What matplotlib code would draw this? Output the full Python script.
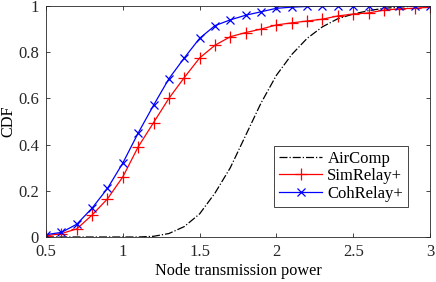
import numpy as np
from matplotlib import pyplot as plt

plt.rcParams['font.family'] = ['Liberation Serif', 'DejaVu Serif']

power = np.round(np.arange(0.5, 3.01, 0.1), 1)

aircomp = [0, 0, 0, 0, 0, 0, 0, 0.003, 0.015, 0.045, 0.1, 0.19, 0.3, 0.44,
           0.58, 0.7, 0.79, 0.86, 0.91, 0.945, 0.965, 0.98, 0.99, 0.995, 1.0, 1.0]
simrelay = [0.005, 0.015, 0.035, 0.095, 0.165, 0.26, 0.39, 0.495, 0.6, 0.69,
            0.775, 0.83, 0.867, 0.885, 0.9, 0.918, 0.927, 0.935, 0.943, 0.957,
            0.965, 0.97, 0.982, 0.988, 0.99, 0.995]
cohrelay = [0.01, 0.02, 0.055, 0.125, 0.21, 0.32, 0.45, 0.57, 0.685, 0.775,
            0.86, 0.915, 0.94, 0.96, 0.975, 0.99, 0.995, 0.998, 1.0, 1.0,
            1.0, 1.0, 1.0, 1.0, 1.0, 1.0]

fig = plt.figure(figsize=(4.36, 2.82), dpi=100)
ax = fig.add_axes([46 / 436, 45 / 282, 384 / 436, 231 / 282])

ax.plot(power, aircomp, color='black', linestyle='-.', linewidth=0.9, label='AirComp')
ax.plot(power, simrelay, color='red', marker='+', markersize=8, linewidth=0.9,
        markeredgewidth=0.9, label='SimRelay+')
ax.plot(power, cohrelay, color='blue', marker='x', markersize=6, linewidth=0.9,
        markeredgewidth=0.9, label='CohRelay+')

ax.set_xlim(0.5, 3)
ax.set_ylim(0, 1)
ax.set_xticks([0.5, 1, 1.5, 2, 2.5, 3])
ax.set_xticklabels(['0.5', '1', '1.5', '2', '2.5', '3'])
ax.set_yticks([0, 0.2, 0.4, 0.6, 0.8, 1])
ax.set_yticklabels(['0', '0.2', '0.4', '0.6', '0.8', '1'])
ax.tick_params(direction='in', length=3, width=0.6, labelsize=12, colors='#262626',
               top=True, right=True, pad=5)
for s in ax.spines.values():
    s.set_linewidth(0.6)
    s.set_color('#262626')

ax.set_xlabel('Node transmission power', fontsize=11.7, labelpad=2)
ax.set_ylabel('CDF', fontsize=11.7)
ax.yaxis.set_label_coords(-0.076, 0.5)

leg = ax.legend(loc='lower right', bbox_to_anchor=(0.943, 0.13), fontsize=12,
                fancybox=False, edgecolor='#262626', framealpha=1,
                handlelength=2.6, borderpad=0.3, labelspacing=0.1, handletextpad=0.3,
                borderaxespad=0)
leg.get_frame().set_linewidth(0.6)

fig.savefig('out.png', dpi=100)
